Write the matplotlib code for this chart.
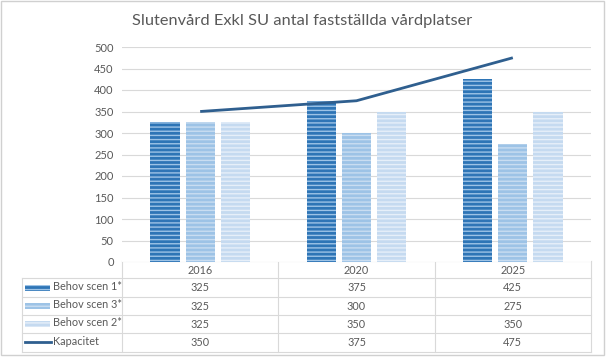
import matplotlib
matplotlib.use('Agg')
import matplotlib.pyplot as plt
from matplotlib.patches import Rectangle
from matplotlib.lines import Line2D
import matplotlib.transforms as mtransforms

categories = ['2016', '2020', '2025']
scen1 = [325, 375, 425]
scen3 = [325, 300, 275]
scen2 = [325, 350, 350]
kapacitet = [350, 375, 475]
series_names = ['Behov scen 1*', 'Behov scen 3*', 'Behov scen 2*', 'Kapacitet']
yticks = [0, 50, 100, 150, 200, 250, 300, 350, 400, 450, 500]
title = 'Slutenvård Exkl SU antal fastställda vårdplatser'

FONT = ['Lato', 'DejaVu Sans']
plt.rcParams['font.family'] = FONT
plt.rcParams['hatch.linewidth'] = 1.0

W, H = 606, 358
fig = plt.figure(figsize=(W / 100, H / 100), dpi=100)
fig.patch.set_facecolor('white')

def fx(px):
    return px / W

def fy(py):
    return 1 - py / H

ax_l, ax_r, ax_t, ax_b = 122, 591, 47, 262
ax = fig.add_axes([fx(ax_l), fy(ax_b), (ax_r - ax_l) / W, (ax_b - ax_t) / H])

grid_c = '#D9D9D9'
text_c = '#595959'

bar_styles = [
    dict(face='#2E75B6', hatch='#9DC3E6'),
    dict(face='#9DC3E6', hatch='#C9DDF1'),
    dict(face='#C5DAF0', hatch='#E6EFF9'),
]
line_c = '#2F5F8F'

offset = 0.225
bw = 0.186
xs = list(range(len(categories)))
for k, (vals, st) in enumerate(zip([scen1, scen3, scen2], bar_styles)):
    pos = [x + (k - 1) * offset for x in xs]
    ax.bar(pos, vals, width=bw, color=st['face'], edgecolor=st['hatch'],
           linewidth=0, hatch='----', zorder=3)
ax.plot(xs, kapacitet, color=line_c, linewidth=2.0, zorder=4, solid_capstyle='butt')

ax.set_xlim(-0.5, 2.5)
ax.set_ylim(0, 500)
ax.set_yticks(yticks)
ax.set_yticklabels([str(v) for v in yticks])
ax.set_xticks([])
ax.tick_params(axis='y', length=0, labelsize=8, labelcolor=text_c, pad=6)
ax.yaxis.grid(True, color=grid_c, linewidth=0.8, zorder=0)
for s in ax.spines.values():
    s.set_visible(False)

# overlay for table and title
ov = fig.add_axes([0, 0, 1, 1], zorder=-1)
ov.set_xlim(0, W)
ov.set_ylim(H, 0)
ov.axis('off')

tr = mtransforms.blended_transform_factory(ax.transData, ov.transData)

rows_y = [261, 278, 297, 315, 333, 352]
# vertical column lines
for xb in [-0.5, 0.5, 1.5, 2.5]:
    ov.add_line(Line2D([xb, xb], [rows_y[0], rows_y[-1]], transform=tr, color=grid_c, lw=0.8))
# horizontal lines
for y in rows_y[1:]:
    ov.add_line(Line2D([22, ax_r], [y, y], color=grid_c, lw=0.8))
ov.add_line(Line2D([ax_l, ax_r], [rows_y[0], rows_y[0]], color=grid_c, lw=0.8))
ov.add_line(Line2D([22, 22], [rows_y[1], rows_y[-1]], color=grid_c, lw=0.8))

fs = 7.8
for i, c in enumerate(categories):
    ov.text(i, (rows_y[0] + rows_y[1]) / 2 + 1, c, transform=tr, ha='center', va='center',
            fontsize=fs, color=text_c)

all_vals = [scen1, scen3, scen2, kapacitet]
for r, (name, vals) in enumerate(zip(series_names, all_vals)):
    yc = (rows_y[r + 1] + rows_y[r + 2]) / 2
    for i, v in enumerate(vals):
        ov.text(i, yc, str(v), transform=tr, ha='center', va='center', fontsize=fs, color=text_c)
    ov.text(53, yc - 1, name, ha='left', va='center', fontsize=fs, color=text_c)
    if r < 3:
        st = bar_styles[r]
        ov.add_patch(Rectangle((25, yc - 3), 25, 6, facecolor=st['face'], edgecolor=st['hatch'],
                               linewidth=0, hatch='----'))
    else:
        ov.add_line(Line2D([25, 51], [yc - 1, yc - 1], color=line_c, lw=2.0))

# figure border
ov.add_patch(Rectangle((0.5, 0.5), 603, 354, fill=False, edgecolor='#D0D0D0', lw=1.0))

ov.text(302, 21, title, ha='center', va='center', fontsize=11.8, color='#595959')

fig.savefig('out.png', dpi=100, facecolor='white')
